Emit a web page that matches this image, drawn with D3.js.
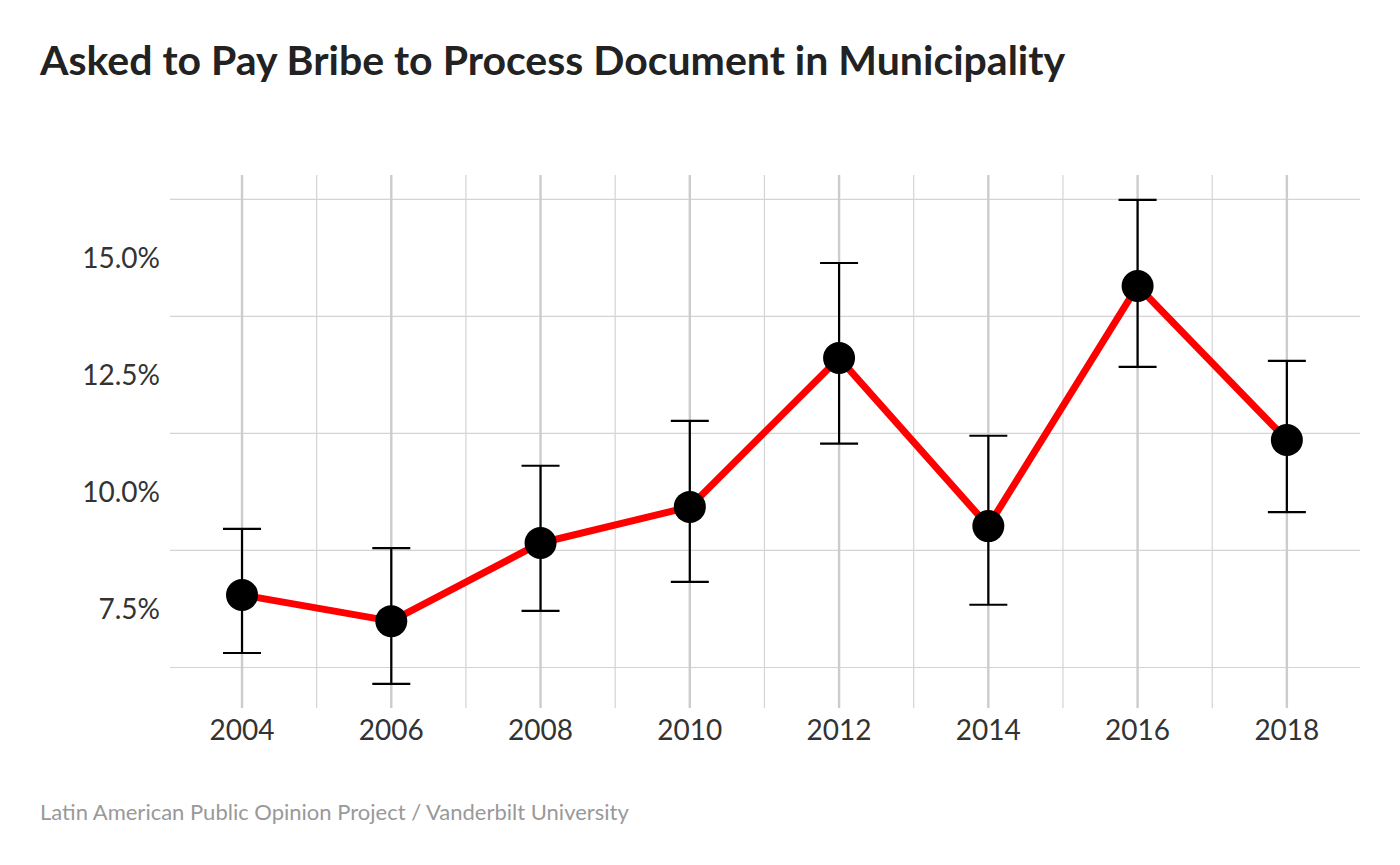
<!DOCTYPE html>
<html>
<head>
<meta charset="utf-8">
<script src="https://cdn.jsdelivr.net/npm/d3@7"></script>
<style>
  body { margin: 0; background: #fff; }
  text { font-family: Lato, "Open Sans", sans-serif; }
</style>
</head>
<body>
<svg id="chart" width="1400" height="865"></svg>
<script>
// data
const years = [2004, 2006, 2008, 2010, 2012, 2014, 2016, 2018];
const values = [7.80, 7.24, 8.91, 9.68, 12.86, 9.27, 14.40, 11.11];
const lower = [6.56, 5.90, 7.46, 8.08, 11.03, 7.59, 12.67, 9.57];
const upper = [9.21, 8.80, 10.56, 11.52, 14.89, 11.20, 16.24, 12.80];
const yTicks = [7.5, 10, 12.5, 15];
const yMinor = [6.25, 8.75, 11.25, 13.75, 16.25];

const svg = d3.select('#chart');
const panelLeft = 170, panelRight = 1360, panelTop = 175, panelBottom = 708;

const x = d3.scaleLinear().domain([2003.035, 2018.98]).range([panelLeft, panelRight]);
const y = d3.scaleLinear().domain([5.385, 16.77]).range([panelBottom, panelTop]);

// grid
const grid = svg.append('g');
grid.selectAll('line.ymin').data(yMinor).enter().append('line')
  .attr('x1', panelLeft).attr('x2', panelRight)
  .attr('y1', d => y(d)).attr('y2', d => y(d))
  .style('stroke', '#d4d4d4').style('stroke-width', 1.2);
grid.selectAll('line.xmin').data(d3.range(2005, 2019, 2)).enter().append('line')
  .attr('x1', d => x(d)).attr('x2', d => x(d))
  .attr('y1', panelTop).attr('y2', panelBottom)
  .style('stroke', '#d4d4d4').style('stroke-width', 1.2);
grid.selectAll('line.xmaj').data(years).enter().append('line')
  .attr('x1', d => x(d)).attr('x2', d => x(d))
  .attr('y1', panelTop).attr('y2', panelBottom)
  .style('stroke', '#cccccc').style('stroke-width', 2.4);

// axis labels
svg.selectAll('text.ytick').data(yTicks).enter().append('text')
  .attr('x', 160).attr('y', d => y(d)).attr('dy', '0.35em')
  .attr('text-anchor', 'end')
  .style('font-size', '28px').style('fill', '#333')
  .text(d => d3.format('.1f')(d) + '%');
svg.selectAll('text.xtick').data(years).enter().append('text')
  .attr('x', d => x(d)).attr('y', 740)
  .attr('text-anchor', 'middle')
  .style('font-size', '28px').style('fill', '#333')
  .text(d => d);

// error bars
const eb = svg.append('g').style('stroke', '#000').style('stroke-width', 2.2);
years.forEach(function(yr, i) {
  eb.append('line').attr('x1', x(yr)).attr('x2', x(yr))
    .attr('y1', y(lower[i])).attr('y2', y(upper[i]));
  [lower[i], upper[i]].forEach(function(v) {
    eb.append('line').attr('x1', x(yr) - 19).attr('x2', x(yr) + 19)
      .attr('y1', y(v)).attr('y2', y(v));
  });
});

// line
const line = d3.line().x((d, i) => x(years[i])).y(d => y(d));
svg.append('path').datum(values)
  .attr('d', line)
  .style('fill', 'none').style('stroke', '#ff0000').style('stroke-width', 7)
  .style('stroke-linejoin', 'round');

// points
svg.selectAll('circle').data(values).enter().append('circle')
  .attr('cx', (d, i) => x(years[i])).attr('cy', d => y(d))
  .attr('r', 16).style('fill', '#000');

// titles
svg.append('text').attr('x', 40).attr('y', 75)
  .style('font-size', '41px').style('font-weight', 'bold').style('fill', '#222')
  .text('Asked to Pay Bribe to Process Document in Municipality');
svg.append('text').attr('x', 40).attr('y', 820)
  .style('font-size', '22px').style('fill', '#999')
  .text('Latin American Public Opinion Project / Vanderbilt University');
</script>
</body>
</html>
